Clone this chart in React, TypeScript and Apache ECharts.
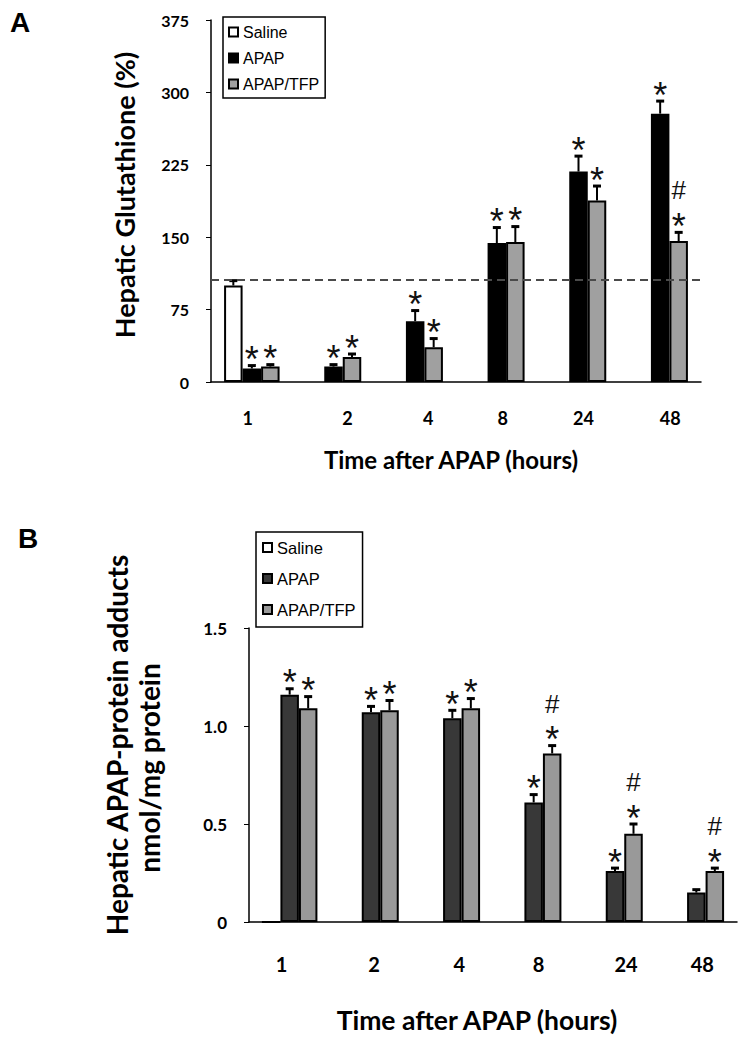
import React, { useEffect, useRef } from "react";
import * as echarts from "echarts";

// ---------- data ----------
const hours = ["1", "2", "4", "8", "24", "48"];
const groupNames = ["Saline", "APAP", "APAP/TFP"];

// Panel A: hepatic glutathione (% of saline)
const gshTicks = [0, 75, 150, 225, 300, 375];
const gshSaline = [100, null, null, null, null, null];
const gshSalineErr = [5, null, null, null, null, null];
const gshApap = [14, 16, 63, 144, 218, 278];
const gshApapErr = [3, 2, 11, 16, 16, 13];
const gshTfp = [16, 26, 36, 145, 188, 146];
const gshTfpErr = [2, 3, 9, 16, 15, 9];
const gshSalineSig = ["", "", "", "", "", ""];
const gshApapSig = ["*", "*", "*", "*", "*", "*"];
const gshTfpSig = ["*", "*", "*", "*", "*", "#*"];
const gshReference = 106;

// Panel B: hepatic APAP-protein adducts (nmol/mg protein)
const adTicks = [0, 0.5, 1.0, 1.5];
const adSaline = [0, null, null, null, null, null];
const adSalineErr = [0, null, null, null, null, null];
const adApap = [1.16, 1.07, 1.04, 0.61, 0.26, 0.15];
const adApapErr = [0.03, 0.03, 0.04, 0.04, 0.015, 0.015];
const adTfp = [1.09, 1.08, 1.09, 0.86, 0.45, 0.26];
const adTfpErr = [0.06, 0.05, 0.05, 0.04, 0.05, 0.015];
const adSalineSig = ["", "", "", "", "", ""];
const adApapSig = ["*", "*", "*", "*", "*", ""];
const adTfpSig = ["*", "*", "*", "#*", "#*", "#*"];

// ---------- styles ----------
const BAR_W = 18.5;
const AXIS_FONT = "Lato";
const LEGEND_FONT = '"Liberation Sans Narrow", "Liberation Sans", Arial, sans-serif';
const SIG_FONT = '"Liberation Sans", Arial, sans-serif';
// horizontal nudges of the hand-placed category labels (px)
const labelShiftA = [-4, 14, 13, 6, 5, 10];
const labelShiftB = [-8, 3, 7, 5, 11, 6];

function buildErrData(vals: (number | null)[][], errs: (number | null)[][]) {
  const out: number[][] = [];
  vals.forEach((arr, k) => {
    arr.forEach((v, i) => {
      if (v === null || v === undefined) return;
      const e = errs[k][i] ?? 0;
      out.push([i, k, v, e]);
    });
  });
  return out;
}

function makeRender(sigs: string[][]) {
  return (params: any, api: any) => {
    const cat = api.value(0);
    const k = api.value(1);
    const v = api.value(2);
    const e = api.value(3);
    const base = api.coord([cat, v]);
    const top = api.coord([cat, v + e]);
    const x = base[0] + (k - 1) * BAR_W;
    const children: any[] = [];
    if (e > 0) {
      children.push({
        type: "line",
        shape: { x1: x, y1: base[1], x2: x, y2: top[1] },
        style: { stroke: "#000", lineWidth: 2 },
      });
      children.push({
        type: "line",
        shape: { x1: x - 4, y1: top[1], x2: x + 4, y2: top[1] },
        style: { stroke: "#000", lineWidth: 3 },
      });
    }
    const sig = sigs[k][cat] || "";
    const starCenter = top[1] - 13;
    sig
      .split("")
      .reverse()
      .forEach((ch, j) => {
        const isHash = ch === "#";
        const glyphCenter = starCenter - j * 30;
        children.push({
          type: "text",
          style: {
            text: ch,
            x,
            y: isHash ? glyphCenter + 1 : glyphCenter + 7,
            align: "center",
            verticalAlign: "middle",
            fontSize: isHash ? 26 : 36,
            fontFamily: SIG_FONT,
            fontWeight: "normal",
            fill: "#111",
          },
        });
      });
    return { type: "group", children };
  };
}

function shiftedLabels(shifts: number[], fontSize: number) {
  const rich: any = {};
  shifts.forEach((d, i) => {
    rich["p" + i] = {
      fontFamily: AXIS_FONT,
      fontWeight: "bold",
      fontSize,
      color: "#000",
      padding: d >= 0 ? [0, 0, 0, 2 * d] : [0, -2 * d, 0, 0],
    };
  });
  return {
    interval: 0,
    hideOverlap: false,
    formatter: (val: string, idx: number) => `{p${idx}|${val}}`,
    rich,
  };
}

export default function App() {
  const ref = useRef<HTMLDivElement>(null);

  useEffect(() => {
    if (!ref.current) return;
    const chart = echarts.init(ref.current, null, { renderer: "svg" });

    const axisLabelStyle = {
      fontFamily: AXIS_FONT,
      fontWeight: "bold" as const,
      color: "#000",
    };

    const barBase = {
      type: "bar" as const,
      barWidth: BAR_W,
      barGap: "0%",
      z: 2,
    };

    const option: any = {
      animation: false,
      backgroundColor: "#fff",
      textStyle: { fontFamily: AXIS_FONT },
      grid: [
        { left: 211, top: 20, width: 490, height: 362 },
        { left: 249, top: 628, width: 488, height: 294 },
      ],
      legend: [
        {
          orient: "vertical",
          left: 223,
          top: 17,
          padding: [7, 6, 6, 5],
          itemGap: 10,
          itemWidth: 9,
          itemHeight: 9,
          borderColor: "#000",
          borderWidth: 1.5,
          selectedMode: false,
          textStyle: { fontFamily: LEGEND_FONT, fontSize: 16, color: "#000" },
          data: [
            { name: "Saline", icon: "rect", itemStyle: { color: "#fff", borderColor: "#000", borderWidth: 2 } },
            { name: "APAP", icon: "rect", itemStyle: { color: "#000", borderColor: "#000", borderWidth: 2 } },
            { name: "APAP/TFP", icon: "rect", itemStyle: { color: "#a0a0a0", borderColor: "#000", borderWidth: 2 } },
          ],
        },
        {
          orient: "vertical",
          left: 256,
          top: 532,
          padding: [7, 7, 9, 6],
          itemGap: 14,
          itemWidth: 9,
          itemHeight: 9,
          borderColor: "#000",
          borderWidth: 1.5,
          selectedMode: false,
          textStyle: { fontFamily: LEGEND_FONT, fontSize: 16.5, color: "#000" },
          data: [
            { name: "Saline", icon: "rect", itemStyle: { color: "#fff", borderColor: "#000", borderWidth: 2 } },
            { name: "APAP", icon: "rect", itemStyle: { color: "#383838", borderColor: "#000", borderWidth: 2 } },
            { name: "APAP/TFP", icon: "rect", itemStyle: { color: "#999", borderColor: "#000", borderWidth: 2 } },
          ],
        },
      ],
      xAxis: [
        {
          type: "category",
          gridIndex: 0,
          data: hours,
          axisLine: { lineStyle: { color: "#000", width: 1.5 } },
          axisTick: { show: false },
          axisLabel: { ...axisLabelStyle, fontSize: 18, margin: 27, ...shiftedLabels(labelShiftA, 18) },
          name: "Time after APAP (hours)",
          nameLocation: "middle",
          nameGap: 65,
          nameTextStyle: { ...axisLabelStyle, fontSize: 24, padding: [0, 10, 0, 0] },
        },
        {
          type: "category",
          gridIndex: 1,
          data: hours,
          axisLine: { lineStyle: { color: "#000", width: 1.5 } },
          axisTick: { show: false },
          axisLabel: { ...axisLabelStyle, fontSize: 20, margin: 32, ...shiftedLabels(labelShiftB, 20) },
          name: "Time after APAP (hours)",
          nameLocation: "middle",
          nameGap: 84,
          nameTextStyle: { ...axisLabelStyle, fontSize: 26.5, padding: [0, 32, 0, 0] },
        },
      ],
      yAxis: [
        {
          type: "value",
          gridIndex: 0,
          min: gshTicks[0],
          max: gshTicks[gshTicks.length - 1],
          interval: gshTicks[1] - gshTicks[0],
          splitLine: { show: false },
          axisLine: { show: true, lineStyle: { color: "#000", width: 1.5 } },
          axisTick: { show: true, length: 5, lineStyle: { color: "#000" } },
          axisLabel: { ...axisLabelStyle, fontSize: 16, margin: 22 },
          name: "Hepatic Glutathione (%)",
          nameLocation: "middle",
          nameGap: 73,
          nameTextStyle: { ...axisLabelStyle, fontSize: 27, padding: [0, 0, 0, 12] },
        },
        {
          type: "value",
          gridIndex: 1,
          min: adTicks[0],
          max: adTicks[adTicks.length - 1],
          interval: adTicks[1] - adTicks[0],
          splitLine: { show: false },
          axisLine: { show: true, lineStyle: { color: "#000", width: 1.5 } },
          axisTick: { show: true, length: 5, lineStyle: { color: "#000" } },
          axisLabel: {
            ...axisLabelStyle,
            fontSize: 17,
            margin: 22,
            formatter: (v: number) => (v === 0 ? "0" : v.toFixed(1)),
          },
        },
      ],
      graphic: [
        {
          type: "text",
          left: 10,
          top: 8,
          style: { text: "A", fontFamily: SIG_FONT, fontWeight: "bold", fontSize: 28, fill: "#000" },
        },
        {
          type: "text",
          left: 18,
          top: 524,
          style: { text: "B", fontFamily: SIG_FONT, fontWeight: "bold", fontSize: 28, fill: "#000" },
        },
        {
          type: "text",
          x: 117,
          y: 745,
          rotation: Math.PI / 2,
          style: {
            text: "Hepatic APAP-protein adducts",
            align: "center",
            verticalAlign: "middle",
            fontFamily: AXIS_FONT,
            fontWeight: "bold",
            fontSize: 28,
            fill: "#000",
          },
        },
        {
          type: "text",
          x: 149,
          y: 768,
          rotation: Math.PI / 2,
          style: {
            text: "nmol/mg protein",
            align: "center",
            verticalAlign: "middle",
            fontFamily: AXIS_FONT,
            fontWeight: "bold",
            fontSize: 28,
            fill: "#000",
          },
        },
      ],
      series: [
        // Panel A
        {
          ...barBase,
          name: groupNames[0],
          xAxisIndex: 0,
          yAxisIndex: 0,
          data: gshSaline,
          itemStyle: { color: "#fff", borderColor: "#000", borderWidth: 2 },
        },
        {
          ...barBase,
          name: groupNames[1],
          xAxisIndex: 0,
          yAxisIndex: 0,
          data: gshApap,
          itemStyle: { color: "#000", borderColor: "#000", borderWidth: 2 },
        },
        {
          ...barBase,
          name: groupNames[2],
          xAxisIndex: 0,
          yAxisIndex: 0,
          data: gshTfp,
          itemStyle: { color: "#a0a0a0", borderColor: "#000", borderWidth: 2 },
        },
        {
          type: "custom",
          xAxisIndex: 0,
          yAxisIndex: 0,
          z: 3,
          silent: true,
          encode: { x: 0, y: 2 },
          renderItem: makeRender([gshSalineSig, gshApapSig, gshTfpSig]),
          data: buildErrData([gshSaline, gshApap, gshTfp], [gshSalineErr, gshApapErr, gshTfpErr]),
        },
        {
          type: "line",
          xAxisIndex: 0,
          yAxisIndex: 0,
          z: 10,
          silent: true,
          data: hours.map(() => null),
          markLine: {
            silent: true,
            symbol: "none",
            label: { show: false },
            lineStyle: { type: [8, 5], color: "#4a4a4a", width: 2 },
            data: [{ yAxis: gshReference }],
          },
        },
        // Panel B
        {
          ...barBase,
          name: groupNames[0],
          xAxisIndex: 1,
          yAxisIndex: 1,
          data: adSaline,
          itemStyle: { color: "#fff", borderColor: "#000", borderWidth: 2 },
        },
        {
          ...barBase,
          name: groupNames[1],
          xAxisIndex: 1,
          yAxisIndex: 1,
          data: adApap,
          itemStyle: { color: "#383838", borderColor: "#000", borderWidth: 2 },
        },
        {
          ...barBase,
          name: groupNames[2],
          xAxisIndex: 1,
          yAxisIndex: 1,
          data: adTfp,
          itemStyle: { color: "#999", borderColor: "#000", borderWidth: 2 },
        },
        {
          type: "custom",
          xAxisIndex: 1,
          yAxisIndex: 1,
          z: 3,
          silent: true,
          encode: { x: 0, y: 2 },
          renderItem: makeRender([adSalineSig, adApapSig, adTfpSig]),
          data: buildErrData([adSaline, adApap, adTfp], [adSalineErr, adApapErr, adTfpErr]),
        },
      ],
    };

    chart.setOption(option);
    return () => chart.dispose();
  }, []);

  return (
    <div
      ref={ref}
      style={{ position: "fixed", left: 0, top: 0, width: 750, height: 1043, background: "#fff" }}
    />
  );
}
